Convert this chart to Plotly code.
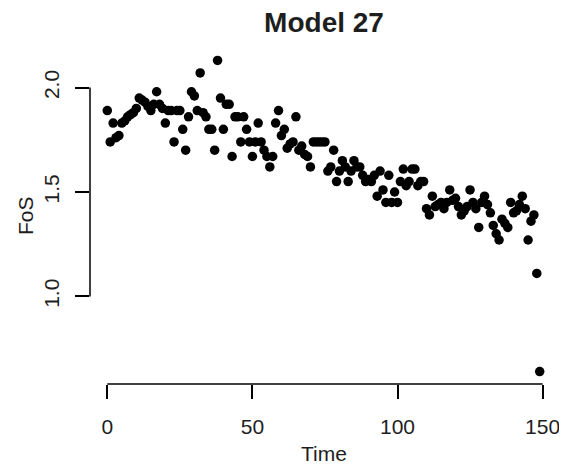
import plotly.graph_objects as go

time = list(range(0, 150))
fos = [
    1.89, 1.74, 1.83, 1.76, 1.77, 1.83, 1.84, 1.86, 1.87, 1.88,
    1.90, 1.95, 1.94, 1.93, 1.91, 1.89, 1.92, 1.98, 1.92, 1.90,
    1.83, 1.89, 1.89, 1.74, 1.89, 1.89, 1.80, 1.70, 1.86, 1.98,
    1.96, 1.89, 2.07, 1.88, 1.86, 1.80, 1.80, 1.70, 2.13, 1.95,
    1.80, 1.92, 1.92, 1.67, 1.86, 1.86, 1.74, 1.86, 1.80, 1.74,
    1.67, 1.74, 1.83, 1.74, 1.70, 1.67, 1.62, 1.67, 1.83, 1.89,
    1.77, 1.80, 1.71, 1.73, 1.74, 1.86, 1.70, 1.72, 1.68, 1.67,
    1.62, 1.74, 1.74, 1.74, 1.74, 1.74, 1.60, 1.62, 1.70, 1.55,
    1.60, 1.65, 1.62, 1.55, 1.60, 1.65, 1.62, 1.62, 1.58, 1.55,
    1.56, 1.55, 1.58, 1.48, 1.60, 1.51, 1.45, 1.58, 1.45, 1.50,
    1.45, 1.55, 1.61, 1.53, 1.55, 1.61, 1.61, 1.53, 1.55, 1.55,
    1.42, 1.39, 1.48, 1.43, 1.44, 1.45, 1.42, 1.45, 1.51, 1.46,
    1.47, 1.43, 1.39, 1.41, 1.43, 1.51, 1.45, 1.42, 1.33, 1.45,
    1.48, 1.44, 1.40, 1.34, 1.30, 1.27, 1.37, 1.35, 1.33, 1.45,
    1.40, 1.41, 1.44, 1.48, 1.42, 1.27, 1.36, 1.39, 1.11, 0.64,
]
x_ticks = [0, 50, 100, 150]
y_ticks = [1.0, 1.5, 2.0]
y_tick_labels = ["1.0", "1.5", "2.0"]
title = "Model 27"
x_label = "Time"
y_label = "FoS"

FONT = "Liberation Sans, Arial, sans-serif"
TXT = "#1e1e1e"

# page has an 8px body margin; figure sized/margined to compensate
W, H = 559, 460
fig = go.Figure()
fig.add_trace(go.Scatter(
    x=time, y=fos, mode="markers",
    marker=dict(size=9.5, color="black", line=dict(width=0)),
    hoverinfo="x+y", showlegend=False,
))

xmin, xmax = min(time), max(time)
ymin, ymax = min(fos), max(fos)
xpad = (xmax - xmin) * 0.04
ypad = (ymax - ymin) * 0.04

fig.update_layout(
    width=W, height=H,
    margin=dict(l=82, r=7, t=40, b=84),
    paper_bgcolor="white", plot_bgcolor="white",
    font=dict(family=FONT, color=TXT, size=21),
    title=dict(text="<b>" + title + "</b>", x=316 / W,
               xanchor="center", y=1 - 14 / H, yanchor="middle",
               font=dict(size=28, color=TXT, family=FONT)),
    xaxis=dict(range=[xmin - xpad, xmax + xpad], tickvals=x_ticks,
               ticktext=[str(v) for v in x_ticks],
               showgrid=False, zeroline=False, showline=False,
               ticks="outside", ticklen=14, tickwidth=1.5, tickcolor="black",
               ticklabelstandoff=10, tickfont=dict(size=21, color=TXT)),
    yaxis=dict(range=[ymin - ypad, ymax + ypad], tickvals=y_ticks,
               ticktext=y_tick_labels, tickangle=-90,
               showgrid=False, zeroline=False, showline=False,
               ticks="outside", ticklen=14, tickwidth=1.5, tickcolor="black",
               ticklabelstandoff=8, tickfont=dict(size=21, color=TXT)),
    shapes=[
        dict(type="line", xref="x", yref="paper", x0=x_ticks[0], x1=x_ticks[-1],
             y0=0, y1=0, line=dict(color="black", width=1.5)),
        dict(type="line", xref="paper", yref="y", x0=0, x1=0,
             y0=y_ticks[0], y1=y_ticks[-1], line=dict(color="black", width=1.5)),
    ],
    annotations=[
        dict(text=x_label, xref="paper", yref="paper", x=0.5, y=0,
             yshift=-69, showarrow=False, xanchor="center", yanchor="middle",
             font=dict(size=21, color=TXT)),
        dict(text=y_label, xref="paper", yref="paper", x=0, y=0.5,
             xshift=-65, showarrow=False, textangle=-90,
             xanchor="center", yanchor="middle",
             font=dict(size=21, color=TXT)),
    ],
)

fig.write_html("out.html")
